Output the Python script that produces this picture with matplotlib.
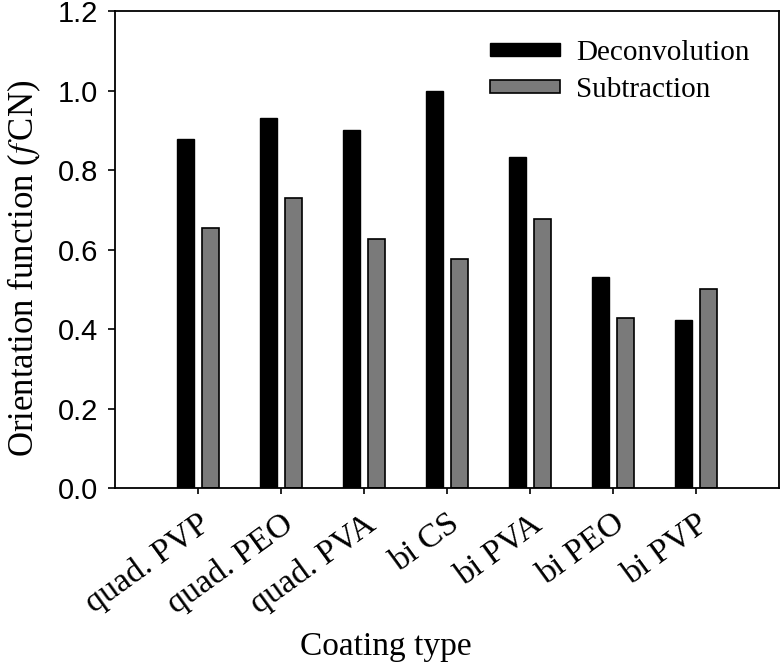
import numpy as np
import matplotlib
matplotlib.use("Agg")
import matplotlib.pyplot as plt

# values
coatings = ["quad. PVP", "quad. PEO", "quad. PVA", "bi CS", "bi PVA", "bi PEO", "bi PVP"]
deconvolution = [0.879, 0.931, 0.902, 1.000, 0.832, 0.532, 0.423]
subtraction = [0.654, 0.729, 0.626, 0.576, 0.677, 0.427, 0.501]

plt.rcParams["mathtext.fontset"] = "stix"
serif = "Liberation Serif"
sans = "Liberation Sans"

fig = plt.figure(figsize=(7.82, 6.64), dpi=100)
ax = fig.add_axes([0.147, 0.265, 0.849, 0.718])

x = np.arange(len(coatings))
width = 0.2
ax.bar(x - 0.15, deconvolution, width, color="black", edgecolor="black", linewidth=1,
       label="Deconvolution")
ax.bar(x + 0.15, subtraction, width, color="#7a7a7a", edgecolor="black", linewidth=1.2,
       label="Subtraction")

ax.set_xlim(-1, 7)
ax.set_ylim(0, 1.2)
yt = np.arange(0, 1.21, 0.2)
ax.set_yticks(yt)
ax.set_yticklabels([f"{v:.1f}" for v in yt], fontfamily=sans, fontsize=21)
ax.set_xticks(x)
ax.set_xticklabels(coatings, rotation=36, ha="right", rotation_mode="anchor",
                   fontfamily=serif, fontsize=24.5)
ax.tick_params(axis="y", direction="out", length=5, width=1.2, pad=7)
ax.tick_params(axis="x", direction="out", length=4.5, width=1.2, pad=10)
for s in ax.spines.values():
    s.set_linewidth(1.3)

ax.set_xlabel("Coating type", fontfamily=serif, fontsize=24, va="baseline")
ax.xaxis.set_label_coords(0.408, -0.35)
ax.set_ylabel(r"Orientation function ($\mathit{f}\,$CN)", fontfamily=serif, fontsize=25)
ax.yaxis.set_label_coords(-0.108, 0.46)

ax.legend(loc="upper left", bbox_to_anchor=(0.565, 0.94), frameon=False,
          prop={"family": serif, "size": 21}, handlelength=2.4, handleheight=0.3,
          handletextpad=0.55, labelspacing=0.37, borderpad=0, borderaxespad=0)

fig.savefig("out.png", dpi=100)
